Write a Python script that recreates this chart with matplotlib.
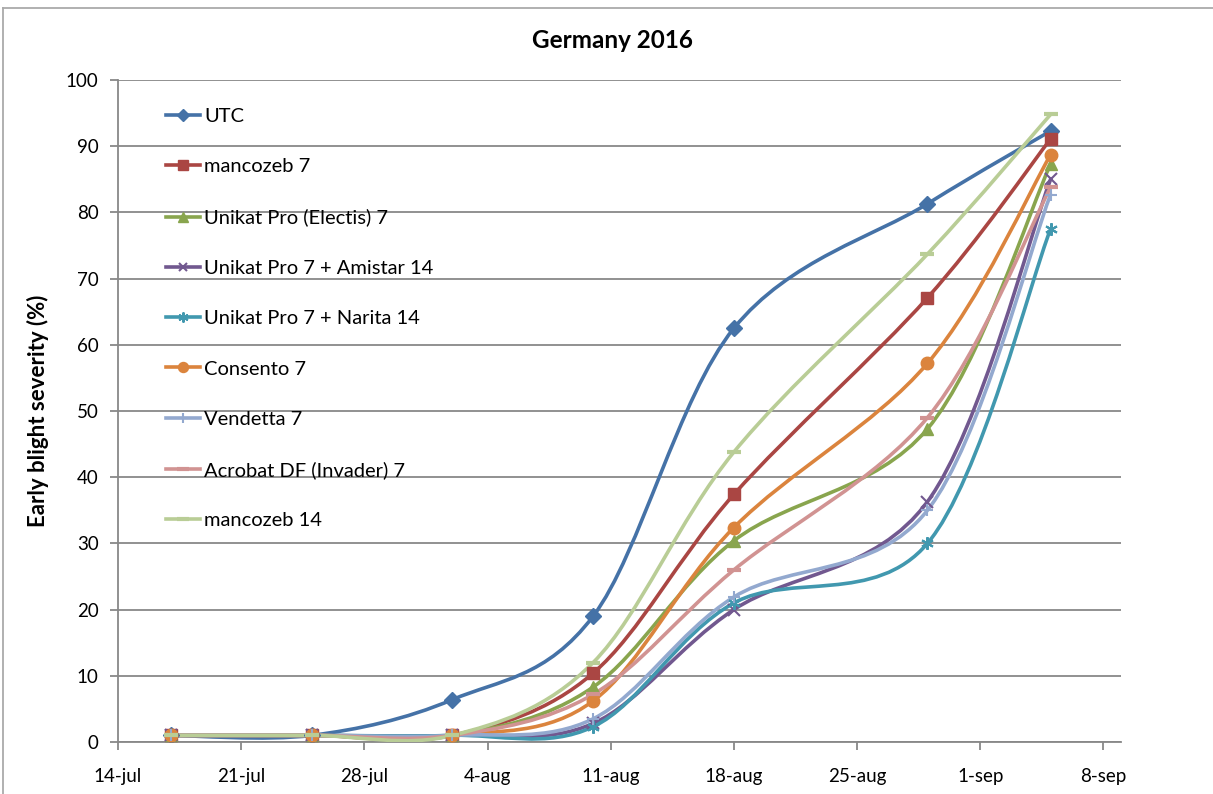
import datetime as dt

import matplotlib

matplotlib.use("Agg")
import matplotlib.dates as mdates
import matplotlib.pyplot as plt
from matplotlib.lines import Line2D
from matplotlib.patches import PathPatch
from matplotlib.path import Path

# ---------------------------
# Datos
# ---------------------------
fechas = [
    dt.date(2016, 7, 17),
    dt.date(2016, 7, 25),
    dt.date(2016, 8, 2),
    dt.date(2016, 8, 10),
    dt.date(2016, 8, 18),
    dt.date(2016, 8, 29),
    dt.date(2016, 9, 5),
]

utc = [1, 1, 6.4, 19.0, 62.5, 81.3, 92.3]
mancozeb_7 = [1, 1, 1, 10.4, 37.4, 67.1, 91.1]
unikat_electis = [1, 1, 1, 8.3, 30.4, 47.3, 87.3]
unikat_amistar = [1, 1, 1, 2.8, 20.0, 36.3, 85.0]
unikat_narita = [1, 1, 1, 2.3, 21.0, 30.0, 77.5]
consento_7 = [1, 1, 1, 6.2, 32.4, 57.2, 88.7]
vendetta_7 = [1, 1, 1, 3.5, 21.9, 35.0, 82.7]
acrobat_7 = [1, 1, 1, 7.2, 26.0, 49.0, 83.8]
mancozeb_14 = [1, 1, 1, 12.0, 43.8, 73.7, 94.8]

nombres = [
    "UTC",
    "mancozeb 7",
    "Unikat Pro (Electis) 7",
    "Unikat Pro 7 + Amistar 14",
    "Unikat Pro 7 + Narita 14",
    "Consento 7",
    "Vendetta 7",
    "Acrobat DF (Invader) 7",
    "mancozeb 14",
]
series = [
    utc,
    mancozeb_7,
    unikat_electis,
    unikat_amistar,
    unikat_narita,
    consento_7,
    vendetta_7,
    acrobat_7,
    mancozeb_14,
]

ticks_fechas = [dt.date(2016, 7, 14) + dt.timedelta(days=7 * i) for i in range(9)]
ticks_etiquetas = [
    "14-jul", "21-jul", "28-jul", "4-aug", "11-aug",
    "18-aug", "25-aug", "1-sep", "8-sep",
]

# estilos tipo Excel 2010
colores = [
    "#4572A7", "#AA4643", "#89A54E", "#71588F", "#4198AF",
    "#DB843D", "#93A9CF", "#D19392", "#B9CD96",
]
marcadores = ["D", "s", "^", "x", (6, 2, 0), "o", "+", "_", "_"]
tamanos = [8, 8.5, 9, 8, 9, 9, 9, 10, 10]
anchos_borde = [1, 1, 1, 1.5, 1.5, 1, 1.5, 3, 3]

plt.rcParams["font.family"] = ["Lato", "DejaVu Sans"]


def curva_suave(x, y, t=1 / 6):
    # curva Bezier tipo Catmull-Rom (como "línea suavizada" de Excel)
    n = len(x)
    verts = [(x[0], y[0])]
    codes = [Path.MOVETO]
    for i in range(n - 1):
        i0 = max(i - 1, 0)
        i3 = min(i + 2, n - 1)
        c1 = (x[i] + (x[i + 1] - x[i0]) * t, y[i] + (y[i + 1] - y[i0]) * t)
        c2 = (x[i + 1] - (x[i3] - x[i]) * t, y[i + 1] - (y[i3] - y[i]) * t)
        verts += [c1, c2, (x[i + 1], y[i + 1])]
        codes += [Path.CURVE4] * 3
    return Path(verts, codes)


W, H = 1213, 794
fig = plt.figure(figsize=(W / 100, H / 100), dpi=100)
ax = fig.add_axes([118 / W, (H - 742) / H, (1121 - 118) / W, (742 - 80) / H])

xs = mdates.date2num(fechas)
gris = "#888888"

handles = []
for nombre, valores, color, m, ms, mew in zip(
    nombres, series, colores, marcadores, tamanos, anchos_borde
):
    patch = PathPatch(
        curva_suave(list(xs), valores),
        facecolor="none",
        edgecolor=color,
        lw=2.6,
        capstyle="round",
        joinstyle="round",
        zorder=3,
    )
    ax.add_patch(patch)
    ax.plot(
        xs, valores, linestyle="none", marker=m, ms=ms, color=color,
        mec=color, mew=mew, zorder=4,
    )
    handles.append(
        Line2D([], [], color=color, lw=2.6, marker=m, ms=ms * 0.8, mec=color, mew=mew)
    )

ax.set_xlim(mdates.date2num(dt.date(2016, 7, 14)), mdates.date2num(dt.date(2016, 9, 9)))
ax.set_ylim(0, 100)
ax.set_yticks(range(0, 101, 10))
ax.set_xticks(mdates.date2num(ticks_fechas))
ax.set_xticklabels(ticks_etiquetas)

ax.grid(axis="y", color=gris, lw=1.3, zorder=0)
for lado in ["top", "right"]:
    ax.spines[lado].set_visible(False)
for lado in ["left", "bottom"]:
    ax.spines[lado].set_color(gris)
    ax.spines[lado].set_linewidth(1.3)
    ax.spines[lado].set_zorder(1)
ax.tick_params(axis="both", colors=gris, labelcolor="black", labelsize=13.5,
               length=6, width=1.3)
ax.tick_params(axis="x", pad=13)
ax.tick_params(axis="y", pad=8)

ax.set_ylabel("Early blight severity (%)", fontsize=16, fontweight="bold", labelpad=12)
fig.text(612 / W, 1 - 40 / H, "Germany 2016", ha="center", va="center",
         fontsize=17.5, fontweight="bold")

ax.legend(
    handles, nombres, loc="upper left",
    bbox_to_anchor=(166 / W, 1 - 108 / H), bbox_transform=fig.transFigure,
    frameon=False, fontsize=14.5, handlelength=1.7, handletextpad=0.2,
    labelspacing=1.65, borderpad=0, borderaxespad=0,
)

# marco exterior del gráfico
fig.add_artist(Line2D([3 / W, 1], [1 - 8 / H, 1 - 8 / H], color="#aaaaaa", lw=1.3))
fig.add_artist(Line2D([3 / W, 3 / W], [0, 1 - 8 / H], color="#aaaaaa", lw=1.3))

fig.savefig("out.png", dpi=100)
